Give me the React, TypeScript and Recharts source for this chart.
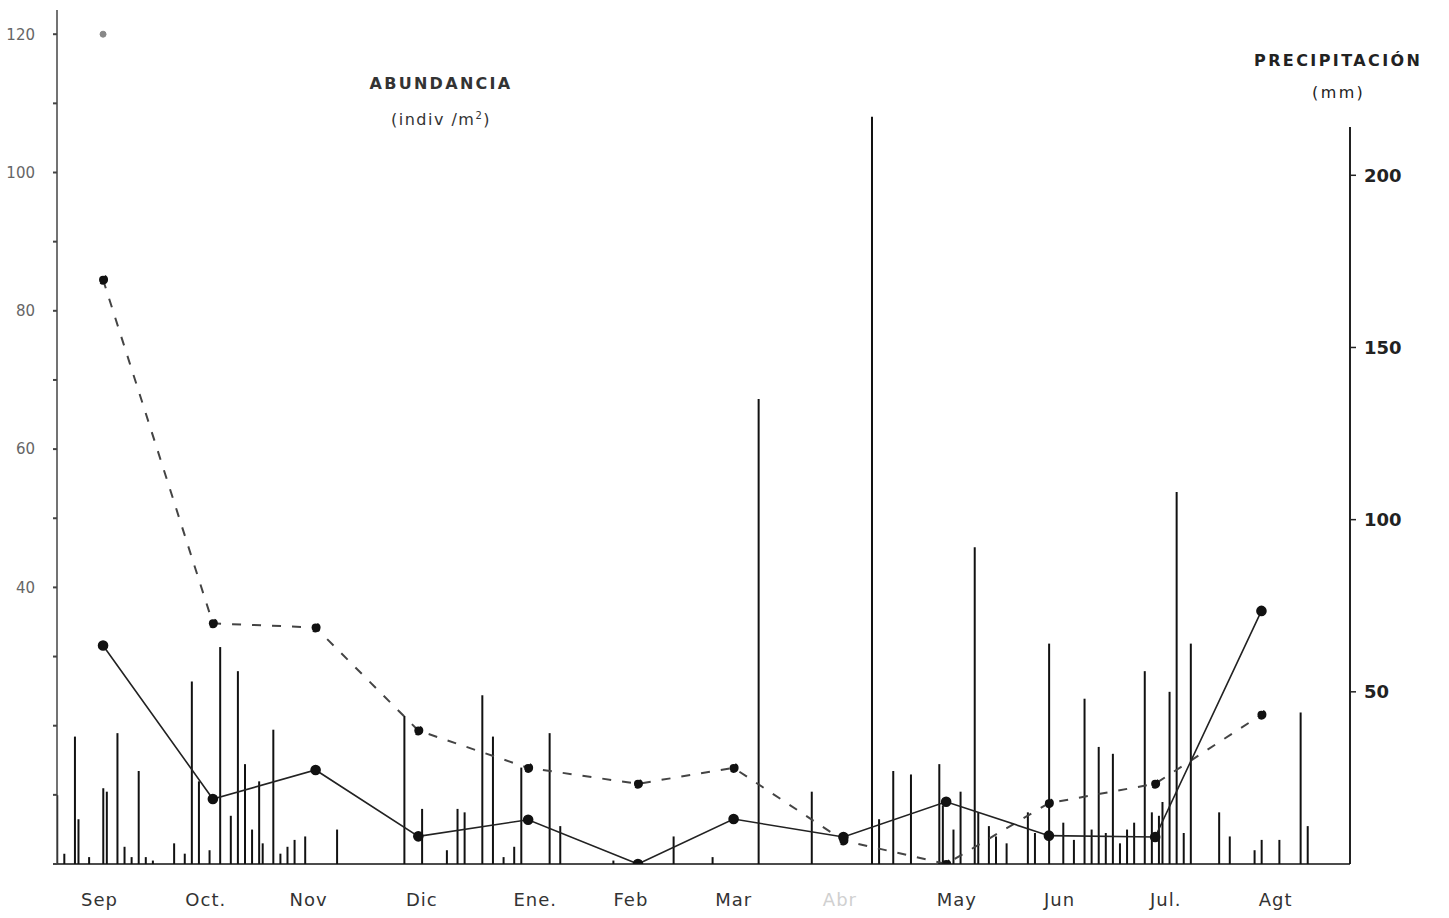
import {
  ComposedChart,
  Bar,
  Line,
  XAxis,
  YAxis,
  ReferenceLine,
} from "recharts";

// month labels on the x axis (day 0 = 1 Sep)
const months = ["Sep", "Oct.", "Nov", "Dic", "Ene.", "Feb", "Mar", "Abr", "May", "Jun", "Jul.", "Agt"];
const monthDays = [12, 42, 71, 103, 135, 162, 191, 221, 254, 283, 313, 344];

// abundance samples (indiv/m2)
const sampleDays = [13, 44, 73, 102, 133, 164, 191, 222, 251, 280, 310, 340];
const solidValues = [31.6, 9.4, 13.6, 4.0, 6.4, 0, 6.5, 3.9, 9.0, 4.1, 3.9, 36.6];
const dashedValues = [84.5, 34.8, 34.2, 19.3, 13.9, 11.6, 13.9, 3.4, 0, 8.8, 11.6, 21.6];
const peakDays = [13];
const peakValues = [120];

// daily precipitation (mm)
const rainDays = [
  0, 2, 5, 6, 9, 13, 14, 17, 19, 21, 23, 25, 27, 33, 36, 38, 40, 43, 46, 49, 51, 53, 55, 57, 58, 61, 63, 65, 67, 70,
  79, 98, 103, 110, 113, 115, 120, 123, 126, 129, 131, 139, 142, 157, 174, 185, 198, 213, 230, 232, 236, 241, 249,
  250, 253, 255, 259, 260, 263, 265, 268, 274, 276, 280, 284, 287, 290, 292, 294, 296, 298, 300, 302, 304, 307,
  309, 311, 312, 314, 316, 318, 320, 328, 331, 338, 340, 345, 351, 353,
];
const rainMm = [
  20, 3, 37, 13, 2, 22, 21, 38, 5, 2, 27, 2, 1, 6, 3, 53, 24, 4, 63, 14, 56, 29, 10, 24, 6, 39, 3, 5, 7, 8,
  10, 43, 16, 4, 16, 15, 49, 37, 2, 5, 28, 38, 11, 1, 8, 2, 135, 21, 217, 13, 27, 26, 29,
  17, 10, 21, 92, 15, 11, 8, 6, 15, 9, 64, 12, 7, 48, 10, 34, 9, 32, 6, 10, 12, 56,
  15, 14, 18, 50, 108, 9, 64, 15, 8, 4, 7, 7, 44, 11,
];

const leftTicks = [0, 10, 20, 30, 40, 50, 60, 70, 80, 90, 100, 110, 120];
const rightTicks = [50, 100, 150, 200];
const rightAxisTop = 214;

const byDay = new Map<number, any>();
const row = (d: number) => {
  if (!byDay.has(d)) byDay.set(d, { day: d });
  return byDay.get(d);
};
rainDays.forEach((d, i) => (row(d).rain = rainMm[i]));
sampleDays.forEach((d, i) => {
  row(d).solid = solidValues[i];
  row(d).dashed = dashedValues[i];
});
peakDays.forEach((d, i) => (row(d).peak = peakValues[i]));
const data = [...byDay.values()].sort((a, b) => a.day - b.day);

const sans = "'DejaVu Sans', sans-serif";

const MonthTick = (props: any) => {
  const { x, y, payload } = props;
  const i = monthDays.indexOf(payload.value);
  return (
    <text
      x={x}
      y={y + 34}
      textAnchor="middle"
      fontSize={18}
      fontFamily={sans}
      letterSpacing={1}
      fill={months[i] === "Abr" ? "#d0d0d0" : "#333"}
    >
      {months[i]}
    </text>
  );
};

export default function App() {
  return (
    <div style={{ position: "absolute", left: 0, top: 0, width: 1449, height: 918, background: "#fff" }}>
      <ComposedChart
        width={1449}
        height={918}
        data={data}
        margin={{ top: 10, right: 29, bottom: 0, left: 0 }}
        style={{ overflow: "visible" }}
      >
        <XAxis
          dataKey="day"
          type="number"
          domain={[0, 365]}
          ticks={monthDays}
          tick={<MonthTick />}
          tickLine={false}
          axisLine={{ stroke: "#111", strokeWidth: 1.5 }}
          height={54}
          allowDataOverflow
        />
        <YAxis
          yAxisId="left"
          domain={[0, 123.5]}
          ticks={leftTicks}
          width={57}
          tickSize={4}
          tickMargin={18}
          tickFormatter={(v: number) => (v >= 40 && v % 20 === 0 ? String(v) : "")}
          tick={{ fontSize: 15, fill: "#666", fontFamily: sans }}
          axisLine={{ stroke: "#444", strokeWidth: 1.5 }}
          tickLine={{ stroke: "#444", strokeWidth: 2 }}
          allowDataOverflow
        />
        <YAxis
          yAxisId="right"
          orientation="right"
          domain={[0, 248]}
          ticks={rightTicks}
          width={70}
          tickSize={6}
          tickMargin={8}
          tick={{ fontSize: 18, fill: "#222", fontWeight: "bold", fontFamily: sans }}
          axisLine={false}
          tickLine={{ stroke: "#222", strokeWidth: 1.5 }}
          allowDataOverflow
        />
        <ReferenceLine
          yAxisId="right"
          segment={[
            { x: 365, y: 0 },
            { x: 365, y: rightAxisTop },
          ]}
          stroke="#222"
          strokeWidth={2}
        />
        <Bar yAxisId="right" dataKey="rain" barSize={2} fill="#111" isAnimationActive={false} />
        <Line
          yAxisId="left"
          dataKey="dashed"
          type="linear"
          connectNulls
          stroke="#444"
          strokeWidth={2}
          strokeDasharray="9 11"
          dot={{ r: 4, fill: "#111", stroke: "#111" }}
          activeDot={false}
          isAnimationActive={false}
        />
        <Line
          yAxisId="left"
          dataKey="solid"
          type="linear"
          connectNulls
          stroke="#222"
          strokeWidth={1.6}
          dot={{ r: 4.5, fill: "#111", stroke: "#111" }}
          activeDot={false}
          isAnimationActive={false}
        />
        <Line
          yAxisId="left"
          dataKey="peak"
          type="linear"
          stroke="none"
          dot={{ r: 3, fill: "#888", stroke: "#888" }}
          activeDot={false}
          isAnimationActive={false}
        />
      </ComposedChart>
      <div
        style={{
          position: "absolute",
          left: 366,
          top: 68,
          width: 150,
          textAlign: "center",
          fontFamily: sans,
          fontWeight: "bold",
          fontSize: 16,
          letterSpacing: 2.3,
          color: "#333",
          lineHeight: "32px",
        }}
      >
        <div>ABUNDANCIA</div>
        <div style={{ fontWeight: "normal", letterSpacing: 1.5 }}>
          (indiv /m<sup style={{ fontSize: 10 }}>2</sup>)
        </div>
      </div>
      <div
        style={{
          position: "absolute",
          left: 1254,
          top: 45,
          fontFamily: sans,
          fontWeight: "bold",
          fontSize: 16,
          letterSpacing: 2.4,
          color: "#222",
          lineHeight: "32px",
        }}
      >
        <div>PRECIPITACIÓN</div>
        <div style={{ fontWeight: "normal", paddingLeft: 58 }}>(mm)</div>
      </div>
    </div>
  );
}
